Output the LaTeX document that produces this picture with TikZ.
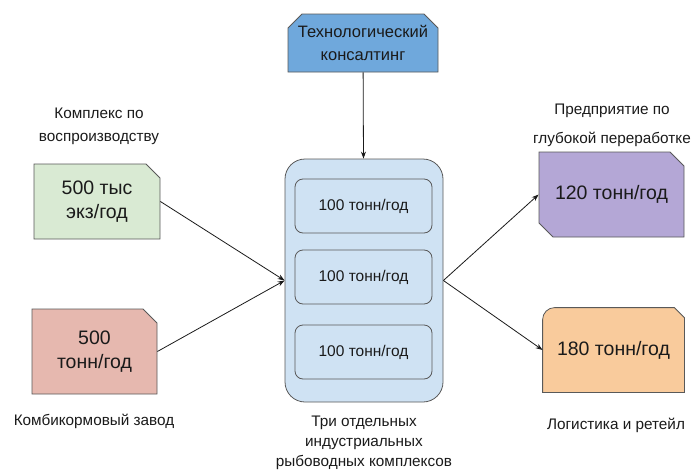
\documentclass[tikz,border=0pt]{standalone}
\usepackage{fontspec}
\setmainfont{Liberation Sans}
\usetikzlibrary{shapes.misc,arrows.meta}
\definecolor{techblue}{HTML}{6FA8DC}
\definecolor{hatchgreen}{HTML}{D9EAD3}
\definecolor{feedred}{HTML}{E6B8AF}
\definecolor{procviolet}{HTML}{B4A7D6}
\definecolor{logorange}{HTML}{F9CB9C}
\definecolor{farmblue}{HTML}{CFE2F3}
\definecolor{edgegray}{HTML}{595959}
\definecolor{txt}{HTML}{1A1A1A}
\begin{document}
\begin{tikzpicture}[x=1pt,y=-1pt,
    every node/.style={text=txt,align=center},
    box/.style={draw=edgegray,line width=0.8pt,inner sep=0pt,font=\fontsize{19.5}{24}\selectfont},
    cut/.style={box,chamfered rectangle,chamfered rectangle xsep=7pt,chamfered rectangle ysep=7pt},
    unit/.style={draw=edgegray,line width=0.8pt,rounded corners=8pt,fill=farmblue,minimum width=137pt,minimum height=54pt,font=\fontsize{15.5}{18}\selectfont},
    lbl/.style={font=\fontsize{15.3}{23}\selectfont},
    link/.style={draw=txt,line width=0.8pt,-{Stealth[length=7pt,width=5pt]}}]
    \useasboundingbox (0,0) rectangle (691,471);

    \node[cut,fill=techblue,chamfered rectangle corners={north west,north east},minimum width=150pt,minimum height=58pt,font=\fontsize{16.5}{23}\selectfont] (tech) at (363,43) {Технологический\\консалтинг};

    \node[cut,fill=hatchgreen,chamfered rectangle corners=north east,minimum width=126pt,minimum height=75pt] (hatch) at (97,201.5) {500 тыс\\экз/год};
    \node[cut,fill=feedred,chamfered rectangle corners=north east,minimum width=125pt,minimum height=85pt] (feed) at (94.5,351.5) {500\\тонн/год};

    \node[draw=edgegray,line width=0.8pt,rounded corners=20pt,fill=farmblue,minimum width=158pt,minimum height=243pt] (farm) at (364,280.5) {};
    \node[unit] (f1) at (363.5,206) {100 тонн/год};
    \node[unit] (f2) at (363.5,277) {100 тонн/год};
    \node[unit] (f3) at (363.5,352) {100 тонн/год};

    \node[cut,fill=procviolet,chamfered rectangle corners={north east,south west},minimum width=145pt,minimum height=85pt] (proc) at (611.5,194.5) {120 тонн/год};
    \node[box,draw=none,minimum width=141pt,minimum height=84pt] (logi) at (613.5,350) {};
    \filldraw[draw=edgegray,line width=0.8pt,fill=logorange] (logi.south west) -- ([yshift=-12pt]logi.north west) arc[start angle=180,end angle=90,radius=12pt] -- ([xshift=-10pt]logi.north east) -- ([yshift=-10pt]logi.north east) -- (logi.south east) -- cycle;
    \node[font=\fontsize{19.5}{24}\selectfont] at (logi) {180 тонн/год};

    \node[lbl] (hatchlbl) at (99,126) {Комплекс по\\воспроизводству};
    \node[lbl] (feedlbl) at (94,421) {Комбикормовый завод};
    \node[lbl,font=\fontsize{15.3}{29}\selectfont] (proclbl) at (612,125) {Предприятие по\\глубокой переработке};
    \node[lbl] (logilbl) at (616,425) {Логистика и ретейл};
    \node[lbl,font=\fontsize{15.3}{20}\selectfont] (farmlbl) at (364,443) {Три отдельных\\индустриальных\\рыбоводных комплексов};

    \draw[link] (tech) -- (farm);
    \draw[link] (hatch.east) -- (farm.west);
    \draw[link] (feed.east) -- (farm.west);
    \draw[link] (farm.east) -- (proc.west);
    \draw[link] (farm.east) -- (logi.west);
\end{tikzpicture}
\end{document}
